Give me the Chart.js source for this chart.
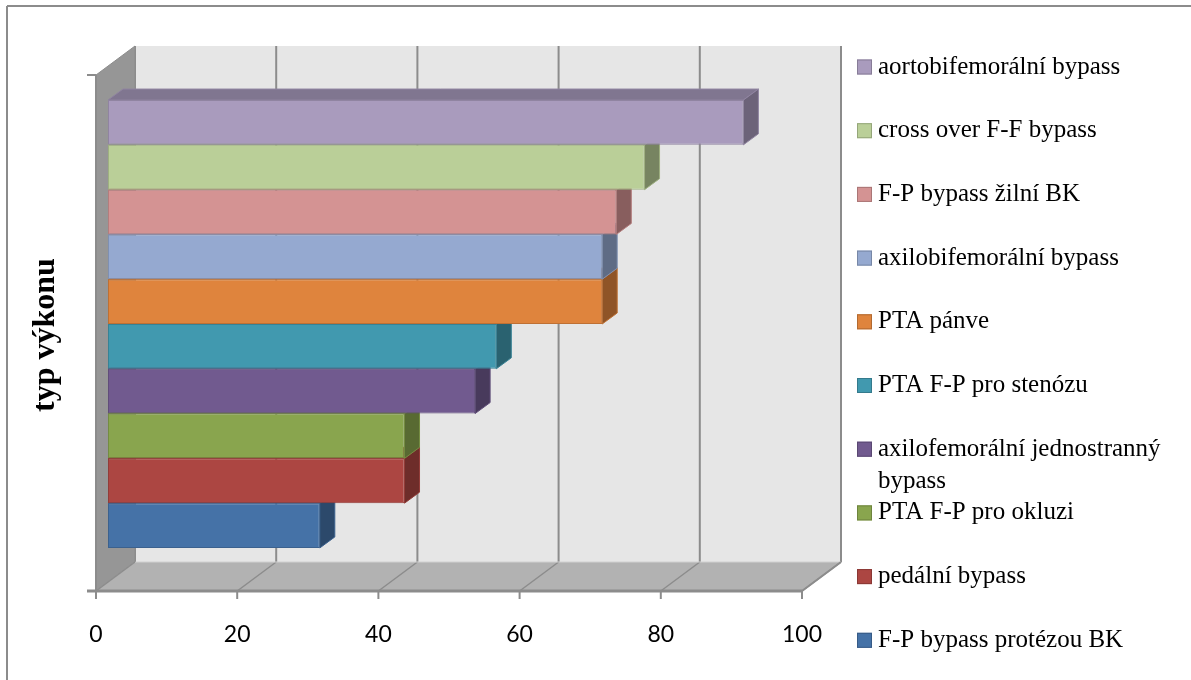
<!DOCTYPE html>
<html>
<head>
<meta charset="utf-8">
<script src="https://cdn.jsdelivr.net/npm/chart.js@4.4.0/dist/chart.umd.min.js"></script>
<style>
  html, body { margin: 0; padding: 0; background: #fff; }
</style>
</head>
<body>
<canvas id="procChart" width="1191" height="680"></canvas>
<script>
// data
const categories = ['typ výkonu'];
const seriesNames = [
    'aortobifemorální bypass',
    'cross over F-F bypass',
    'F-P bypass žilní BK',
    'axilobifemorální bypass',
    'PTA pánve',
    'PTA F-P pro stenózu',
    'axilofemorální jednostranný bypass',
    'PTA F-P pro okluzi',
    'pedální bypass',
    'F-P bypass protézou BK'
];
const seriesValues = [90, 76, 72, 70, 70, 55, 52, 42, 42, 30];
const seriesColors = [
    '#A99BBD', '#BACF98', '#D49393', '#95A9D0', '#DF843D',
    '#4199AF', '#715A8F', '#89A54E', '#AC4642', '#4572A7'
];
const xTicks = [0, 20, 40, 60, 80, 100];

// 3D look: offsets of the front plane / back wall relative to the bar plane
const front = { dx: -12, dy: 9 };
const back = { dx: 27, dy: -20 };
const barDepth = { dx: 15, dy: -11 };

function shade(hex, f) {
    const n = parseInt(hex.slice(1), 16);
    const r = Math.round(((n >> 16) & 255) * f);
    const g = Math.round(((n >> 8) & 255) * f);
    const b = Math.round((n & 255) * f);
    return 'rgb(' + r + ',' + g + ',' + b + ')';
}

function poly(ctx, pts, fill, stroke, lw) {
    ctx.beginPath();
    ctx.moveTo(pts[0][0], pts[0][1]);
    for (let i = 1; i < pts.length; i++) ctx.lineTo(pts[i][0], pts[i][1]);
    ctx.closePath();
    if (fill) { ctx.fillStyle = fill; ctx.fill(); }
    if (stroke) { ctx.strokeStyle = stroke; ctx.lineWidth = lw || 1; ctx.stroke(); }
}

function line(ctx, x1, y1, x2, y2, color, lw) {
    ctx.beginPath();
    ctx.moveTo(x1, y1);
    ctx.lineTo(x2, y2);
    ctx.strokeStyle = color;
    ctx.lineWidth = lw;
    ctx.stroke();
}

const box3d = {
    id: 'box3d',
    beforeDraw(chart) {
        const ctx = chart.ctx;
        ctx.save();
        // outer frame
        line(ctx, 7, 6, chart.width, 6, '#8c8c8c', 2);
        line(ctx, 7, 6, 7, chart.height, '#8c8c8c', 2);
        ctx.restore();
    },
    beforeDatasetsDraw(chart) {
        const ctx = chart.ctx;
        const a = chart.chartArea;
        const xs = chart.scales.x;
        ctx.save();
        const fl = a.left + front.dx, fr = a.right + front.dx;
        const ft = a.top + front.dy, fb = a.bottom + front.dy;
        const bl = a.left + back.dx, br = a.right + back.dx;
        const bt = a.top + back.dy, bb = a.bottom + back.dy;

        // back wall
        poly(ctx, [[bl, bt], [br, bt], [br, bb], [bl, bb]], '#E6E6E6');
        xTicks.forEach(v => {
            const px = xs.getPixelForValue(v) + back.dx;
            line(ctx, px, bt, px, bb, '#8c8c8c', 2);
        });
        // left wall
        poly(ctx, [[fl, ft], [bl, bt], [bl, bb], [fl, fb]], '#969696');
        // floor
        poly(ctx, [[fl, fb], [bl, bb], [br, bb], [fr, fb]], '#B2B2B2');
        xTicks.forEach(v => {
            const px = xs.getPixelForValue(v);
            line(ctx, px + front.dx, fb, px + back.dx, bb, '#8c8c8c', 1.5);
        });
        line(ctx, bl, bb, br, bb, '#d0d0d0', 1);
        line(ctx, fr, fb, br, bb, '#8c8c8c', 2);
        line(ctx, bl, bt, bl, bb, '#8c8c8c', 1);

        // axes
        line(ctx, fl, ft, fl, fb, '#8c8c8c', 2);
        line(ctx, fl - 9, fb, fr, fb, '#8c8c8c', 3);
        line(ctx, fl - 9, ft, fl, ft, '#8c8c8c', 2);
        line(ctx, fl, ft, bl, bt, '#8c8c8c', 1);
        ctx.fillStyle = '#000';
        ctx.font = '23px Lato';
        ctx.textAlign = 'center';
        ctx.textBaseline = 'middle';
        xTicks.forEach(v => {
            const px = xs.getPixelForValue(v) + front.dx;
            line(ctx, px, fb, px, fb + 8, '#8c8c8c', 2);
            ctx.fillText(String(v), px, 635);
        });
        ctx.restore();
    },
    beforeDatasetDraw(chart, args) {
        const ctx = chart.ctx;
        const i = args.index;
        const el = args.meta.data[0];
        if (!el) return;
        const p = el.getProps(['x', 'y', 'base', 'height'], true);
        const top = p.y - p.height / 2, bottom = p.y + p.height / 2;
        const left = p.base, right = p.x;
        const c = seriesColors[i];
        ctx.save();
        poly(ctx, [[left, top], [right, top], [right + barDepth.dx, top + barDepth.dy], [left + barDepth.dx, top + barDepth.dy]],
            shade(c, 0.76), shade(c, 0.85), 1);
        poly(ctx, [[right, top], [right, bottom], [right + barDepth.dx, bottom + barDepth.dy], [right + barDepth.dx, top + barDepth.dy]],
            shade(c, 0.64), shade(c, 0.85), 1);
        ctx.restore();
    },
    afterDraw(chart) {
        const ctx = chart.ctx;
        ctx.save();
        // axis title
        ctx.translate(46, 335);
        ctx.rotate(-Math.PI / 2);
        ctx.font = 'bold 32px "Liberation Serif"';
        ctx.fillStyle = '#000';
        ctx.textAlign = 'center';
        ctx.textBaseline = 'middle';
        ctx.fillText(categories[0], 0, 0);
        ctx.restore();

        // legend
        ctx.save();
        ctx.font = '25px "Liberation Serif"';
        ctx.textAlign = 'left';
        ctx.textBaseline = 'middle';
        const maxW = 300;
        seriesNames.forEach((name, i) => {
            const y = 67 + i * 63.7;
            ctx.fillStyle = seriesColors[i];
            ctx.fillRect(857, y - 7.5, 15, 15);
            ctx.strokeStyle = shade(seriesColors[i], 0.8);
            ctx.lineWidth = 1;
            ctx.strokeRect(857.5, y - 7, 14, 14);
            // wrap long names
            const words = name.split(' ');
            const lines = [];
            let cur = '';
            words.forEach(w => {
                const t = cur ? cur + ' ' + w : w;
                if (ctx.measureText(t).width > maxW && cur) { lines.push(cur); cur = w; }
                else cur = t;
            });
            lines.push(cur);
            ctx.fillStyle = '#000';
            lines.forEach((l, k) => ctx.fillText(l, 878, y + k * 32));
        });
        ctx.restore();
    }
};

const datasets = seriesNames.map((name, i) => ({
    label: name,
    data: [seriesValues[i]],
    backgroundColor: seriesColors[i],
    borderColor: shade(seriesColors[i], 0.85),
    borderWidth: 1,
    borderSkipped: false,
    categoryPercentage: 0.868,
    barPercentage: 1.0
}));

const ctx = document.getElementById('procChart').getContext('2d');
const procChart = new Chart(ctx, {
    type: 'bar',
    data: {
        labels: categories,
        datasets: datasets
    },
    options: {
        indexAxis: 'y',
        responsive: false,
        animation: false,
        layout: {
            padding: { left: 108, right: 377, top: 66, bottom: 98 }
        },
        plugins: {
            legend: { display: false },
            tooltip: { enabled: false }
        },
        scales: {
            x: { display: false, min: 0, max: 100 },
            y: { display: false }
        }
    },
    plugins: [box3d]
});
</script>
</body>
</html>
